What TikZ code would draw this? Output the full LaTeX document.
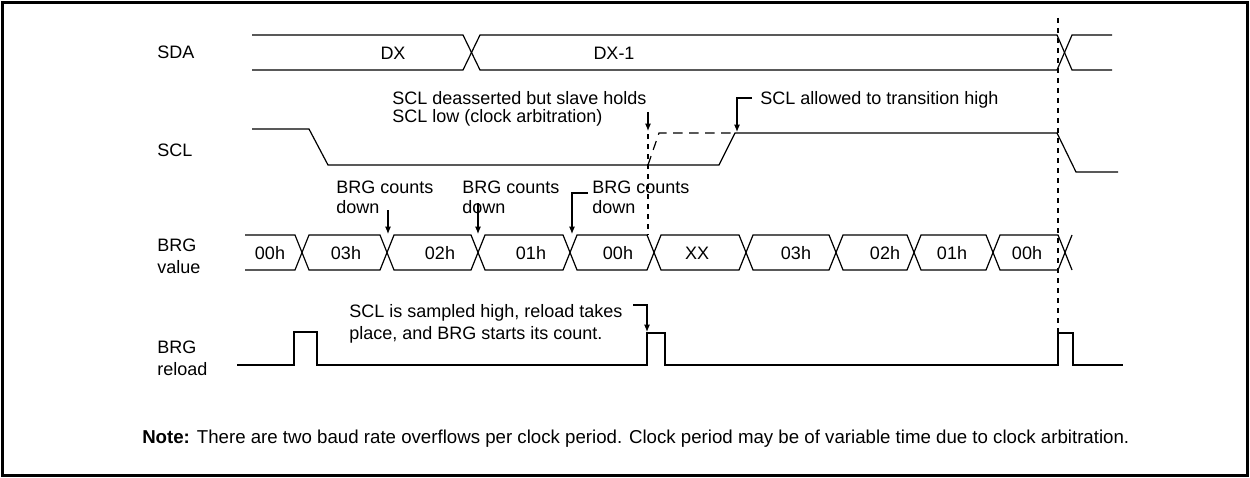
\documentclass[tikz,border=0pt]{standalone}
\usepackage{fontspec}
\setmainfont{Liberation Sans}
\usetikzlibrary{arrows.meta}
\begin{document}
\begin{tikzpicture}[x=0.75pt,y=-0.75pt,
  sig/.style={line width=0.9pt},
  dsh/.style={line width=0.9pt,dash pattern=on 7pt off 5pt},
  mrk/.style={line width=0.8pt,dash pattern=on 3.5pt off 4pt},
  ptr/.style={line width=0.8pt,-{Latex[length=5.5pt,width=4.5pt]}},
  lbl/.style={inner sep=0pt,anchor=west,align=left,font=\fontsize{13.5}{16.5}\selectfont},
  val/.style={inner sep=0pt,font=\fontsize{13.5}{16}\selectfont}]
\useasboundingbox (0,0) rectangle (1250,478);
\draw[line width=1.9pt] (2.5,2.5) rectangle (1247.5,475.5);
% signal names
\node[lbl] (nsda) at (157,52) {SDA};
\node[lbl] (nscl) at (157,150) {SCL};
\node[lbl] (nbrgv) at (157,256) {BRG\\value};
\node[lbl] (nbrgr) at (157,358) {BRG\\reload};
% SDA bus
\draw[sig] (252,35) -- (463,35) -- (480,70) -- (1057,70) -- (1072,35) -- (1112,35);
\draw[sig] (252,70) -- (463,70) -- (480,35) -- (1057,35) -- (1072,70) -- (1112,70);
\node[val] (dx) at (393,53) {DX};
\node[val] (dx1) at (614,53) {DX-1};
% SCL
\draw[sig] (252,129) -- (309,129) -- (328,165) -- (719,165) -- (735,133) -- (1057,133) -- (1076,172) -- (1118,172);
\draw[dsh] (648,165) -- (659,133) -- (735,133);
% dashed markers
\draw[mrk] (648,134) -- (648,235);
\draw[mrk] (1058,18) -- (1058,332);
% BRG value bus
\draw[sig] (245,235) -- (295,235) -- (309,270) -- (380,270) -- (394,235) -- (471,235) -- (485,270) -- (563,270) -- (577,235) -- (647,235) -- (661,270) -- (739,270) -- (753,235) -- (829,235) -- (843,270) -- (907,270) -- (921,235) -- (986,235) -- (1000,270) -- (1058,270) -- (1072,235);
\draw[sig] (245,270) -- (295,270) -- (309,235) -- (380,235) -- (394,270) -- (471,270) -- (485,235) -- (563,235) -- (577,270) -- (647,270) -- (661,235) -- (739,235) -- (753,270) -- (829,270) -- (843,235) -- (907,235) -- (921,270) -- (986,270) -- (1000,235) -- (1058,235) -- (1072,270);
\node[val] (v1) at (270,253) {00h};
\node[val] (v2) at (346,253) {03h};
\node[val] (v3) at (440,253) {02h};
\node[val] (v4) at (531,253) {01h};
\node[val] (v5) at (618,253) {00h};
\node[val] (v6) at (697,253) {XX};
\node[val] (v7) at (796,253) {03h};
\node[val] (v8) at (885,253) {02h};
\node[val] (v9) at (952,253) {01h};
\node[val] (v10) at (1027,253) {00h};
% BRG reload
\draw[sig] (237,365) -- (294,365) -- (294,332) -- (317,332) -- (317,365) -- (647,365) -- (647,333) -- (665,333) -- (665,365) -- (1058,365) -- (1058,333) -- (1073,333) -- (1073,365) -- (1123,365);
% annotations
\node[lbl,font=\fontsize{13.5}{13.8}\selectfont] (a1) at (392,109) {SCL deasserted but slave holds\\SCL low (clock arbitration)};
\coordinate (a1s) at (648,112); \coordinate (a1e) at (648,131);
\draw[ptr] (a1s) -- (a1e);
\node[lbl] (a2) at (760,100) {SCL allowed to transition high};
\coordinate (a2s) at (752,98); \coordinate (a2c) at (737,98); \coordinate (a2e) at (737,132);
\draw[ptr] (a2s) -- (a2c) -- (a2e);
\node[lbl,font=\fontsize{13.5}{15}\selectfont] (b1) at (336,197) {BRG counts\\down};
\coordinate (b1s) at (388,210); \coordinate (b1e) at (388,234);
\draw[ptr] (b1s) -- (b1e);
\node[lbl,font=\fontsize{13.5}{15}\selectfont] (b2) at (462,197) {BRG counts\\down};
\coordinate (b2s) at (478,203); \coordinate (b2e) at (478,234);
\draw[ptr] (b2s) -- (b2e);
\node[lbl,font=\fontsize{13.5}{15}\selectfont] (b3) at (592,197) {BRG counts\\down};
\coordinate (b3s) at (588,193); \coordinate (b3c) at (572,193); \coordinate (b3e) at (572,234);
\draw[ptr] (b3s) -- (b3c) -- (b3e);
\node[lbl] (r1) at (349,324) {SCL is sampled high, reload takes\\place, and BRG starts its count.};
\coordinate (r1s) at (633,305); \coordinate (r1c) at (647,305); \coordinate (r1e) at (647,332);
\draw[ptr] (r1s) -- (r1c) -- (r1e);
% note
\node[lbl,font=\fontsize{14}{16}\selectfont] (note) at (142,439) {\textbf{Note:} There are two baud rate overflows per clock period. Clock period may be of variable time due to clock arbitration.};
\end{tikzpicture}
\end{document}
